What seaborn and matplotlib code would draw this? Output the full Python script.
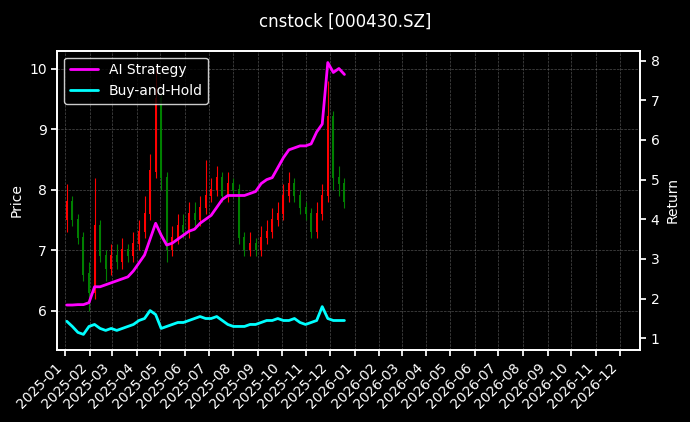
import matplotlib
matplotlib.use("Agg")
import matplotlib.pyplot as plt
import matplotlib.dates as mdates
import seaborn as sns
import pandas as pd
import numpy as np

sns.set_theme(style="dark")
plt.rcParams['font.family'] = ['DejaVu Sans']
plt.rcParams.update({"font.size": 10, "axes.labelsize": 10, "xtick.labelsize": 10,
                     "ytick.labelsize": 10, "legend.fontsize": 10})

dates = pd.date_range("2025-01-03", periods=51, freq="7D")
close = [7.8,7.5,7.2,6.6,6.3,7.4,6.9,6.7,6.9,6.8,7.0,6.9,7.1,7.3,7.6,8.3,9.5,8.2,7.0,7.2,7.4,7.3,7.6,7.5,7.7,7.9,8.0,8.2,7.9,8.1,8.0,7.2,7.0,7.1,7.0,7.2,7.3,7.5,7.6,7.9,8.1,7.9,7.7,7.6,7.3,7.6,7.9,9.2,8.2,8.1,7.8]
open_ = [7.5,7.8,7.5,7.2,6.6,6.3,7.4,6.9,6.7,6.9,6.8,7.0,6.9,7.1,7.3,7.6,8.3,9.5,8.2,7.0,7.2,7.4,7.3,7.6,7.5,7.7,7.9,8.0,8.2,7.9,8.1,8.0,7.2,7.0,7.1,7.0,7.2,7.3,7.5,7.6,7.9,8.1,7.9,7.7,7.6,7.3,7.6,7.9,9.2,8.2,8.1]
high = [8.1,7.9,7.6,7.3,6.8,8.2,7.5,7.0,7.1,7.1,7.2,7.1,7.3,7.5,7.9,8.6,10.0,9.6,8.3,7.4,7.6,7.6,7.8,7.8,7.9,8.5,8.2,8.4,8.3,8.3,8.2,8.1,7.3,7.3,7.2,7.4,7.5,7.7,7.8,8.1,8.3,8.2,8.0,7.8,7.7,7.8,8.1,9.8,9.3,8.4,8.2]
low = [7.3,7.4,7.1,6.5,6.0,6.2,6.8,6.5,6.6,6.7,6.7,6.8,6.8,7.0,7.2,7.5,8.2,8.0,6.8,6.9,7.1,7.2,7.2,7.4,7.4,7.6,7.8,7.9,7.8,7.8,7.9,7.1,6.9,6.9,6.9,6.9,7.1,7.2,7.4,7.5,7.8,7.8,7.6,7.5,7.2,7.2,7.5,7.8,8.0,7.9,7.7]
ai = [1.84,1.84,1.85,1.85,1.9,2.3,2.3,2.35,2.4,2.45,2.5,2.55,2.7,2.9,3.1,3.5,3.9,3.6,3.35,3.4,3.5,3.6,3.7,3.75,3.9,4.0,4.1,4.3,4.5,4.6,4.6,4.6,4.6,4.65,4.7,4.9,5.0,5.05,5.3,5.55,5.75,5.8,5.85,5.85,5.9,6.2,6.4,7.95,7.7,7.8,7.65]
bh = [1.43,1.3,1.15,1.1,1.3,1.35,1.25,1.2,1.25,1.2,1.25,1.3,1.35,1.45,1.5,1.7,1.6,1.25,1.3,1.35,1.4,1.4,1.45,1.5,1.55,1.5,1.5,1.55,1.45,1.35,1.3,1.3,1.3,1.35,1.35,1.4,1.45,1.45,1.5,1.45,1.45,1.5,1.4,1.35,1.4,1.45,1.8,1.5,1.45,1.45,1.45]

df = pd.DataFrame({"date": dates, "open": open_, "close": close, "high": high, "low": low, "ai": ai, "bh": bh})

fig = plt.figure(figsize=(6.9, 4.22), dpi=100, facecolor="black")
ax = fig.add_axes([0.083, 0.17, 0.845, 0.71])
ax.set_facecolor("black")
colors = ["red" if c >= o else "green" for o, c in zip(df.open, df.close)]
ax.vlines(df.date, df.low, df.high, colors=colors, linewidth=0.8)
ax.bar(df.date, np.abs(df.close - df.open) + 0.02, bottom=np.minimum(df.open, df.close), width=2.5, color=colors, linewidth=0)
ax.set_ylim(5.35, 10.3)
ax.set_ylabel("Price", color="white")
ax.set_xlim(pd.Timestamp("2024-12-22"), pd.Timestamp("2026-12-27"))
ax.xaxis.set_major_locator(mdates.MonthLocator())
ax.xaxis.set_major_formatter(mdates.DateFormatter("%Y-%m"))
plt.setp(ax.get_xticklabels(), rotation=45, ha="right")
ax.grid(True, color="gray", linestyle="--", linewidth=0.5, alpha=0.6)
ax.tick_params(colors="white", which="both", left=True, bottom=True, length=4)
for s in ax.spines.values():
    s.set_color("white")

ax2 = ax.twinx()
sns.lineplot(data=df, x="date", y="ai", ax=ax2, color="magenta", linewidth=2, label="AI Strategy")
sns.lineplot(data=df, x="date", y="bh", ax=ax2, color="cyan", linewidth=2, label="Buy-and-Hold")
ax2.set_ylim(0.7, 8.25)
ax2.set_ylabel("Return", color="white")
ax2.set_xlabel("")
ax2.tick_params(colors="white", right=True, length=4)
for s in ax2.spines.values():
    s.set_color("white")
ax2.grid(False)
leg = ax2.legend(loc="upper left", facecolor="black", edgecolor="white", labelcolor="white")
fig.suptitle("cnstock [000430.SZ]", color="white", fontsize=12, y=0.97)
fig.savefig("out.png", dpi=100, facecolor="black")
